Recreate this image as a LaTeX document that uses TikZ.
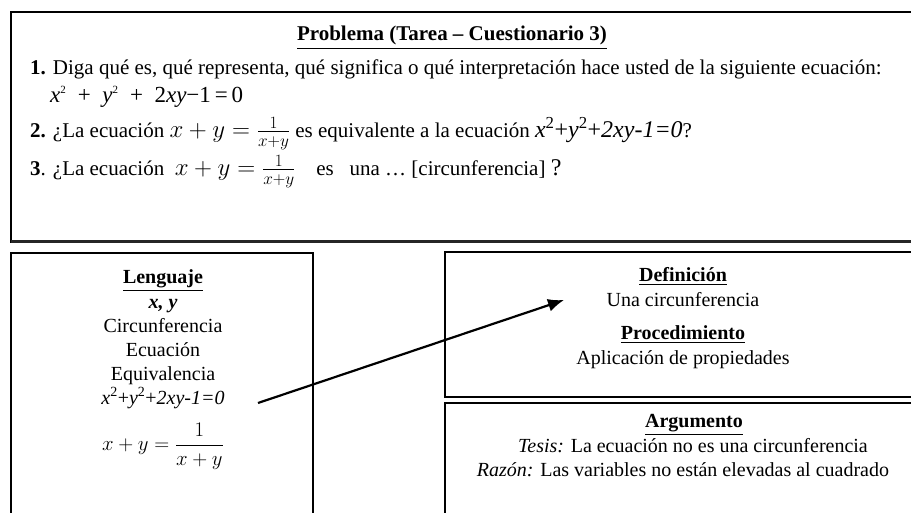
\documentclass[tikz,border=0pt]{standalone}
\usepackage{amsmath,amssymb}
\usepackage{fontspec}
\setmainfont{Liberation Serif}
\usepackage{tikz}
\usetikzlibrary{arrows.meta}

\newcommand{\sqeq}{\textit{x}\textsuperscript{2}+\textit{y}\textsuperscript{2}+\textit{2xy-1=0}}
\newcommand{\hd}[1]{\underline{\textbf{#1}}}
\newcommand{\frc}{{\fontsize{24}{24}\selectfont$x+y=\frac{1}{x+y}$}}
\newcommand{\sq}{\textsuperscript{\fontsize{11}{11}\selectfont 2}}

\begin{document}
\begin{tikzpicture}[x=1pt,y=-1pt,
    box/.style={draw,line width=1.6pt},
    txt/.style={font=\fontsize{21}{25}\selectfont,inner sep=0pt,anchor=base west},
    blk/.style={font=\fontsize{20}{24}\selectfont,inner sep=0pt,align=center,anchor=north}]
    \useasboundingbox (0,0) rectangle (911,513);
    \clip (0,0) rectangle (911,513);
    % boxes
    \draw[box] (11,12) rectangle (930,242);
    \draw[line width=3pt,black!85] (11,242) -- (930,242);
    \draw[box] (11,253) rectangle (313,530);
    \draw[box] (445,252) rectangle (930,397);
    \draw[box] (445,403) rectangle (930,530);
    % problema
    \node[txt,anchor=base] (tit) at (452,41) {\hd{Problema (Tarea – Cuestionario 3)}};
    \node[txt] (q1) at (30,75) {\textbf{1.} Diga qué es, qué representa, qué significa o qué interpretación hace usted de la siguiente ecuación:};
    \node[txt,font=\fontsize{23}{25}\selectfont] (q1b) at (50,103) {\textit{x}\sq\enspace+\enspace\textit{y}\sq\enspace+\enspace2\textit{xy}−1\,=\,0};
    \node[txt] (q2) at (30,138) {\textbf{2.} ¿La ecuación \frc{} es equivalente a la ecuación {\fontsize{24}{24}\selectfont\sqeq}?};
    \node[txt] (q3) at (30,176) {\textbf{3}. ¿La ecuación\ \ \frc\ \ \ \ es\ \ \ una … [circunferencia] {\fontsize{24}{24}\selectfont ?}};
    % lenguaje
    \node[blk] (leng) at (163,269) {\hd{Lenguaje}\\[1pt] \textbf{\textit{x, y}}\\ Circunferencia\\ Ecuación\\ Equivalencia\\ \sqeq\\[14pt] $x+y=\dfrac{1}{x+y}$};
    % definicion
    \node[blk] (defi) at (683,267) {\hd{Definición}\\[1pt] Una circunferencia\\[9pt] \hd{Procedimiento}\\[1pt] Aplicación de propiedades};
    % argumento
    \node[blk] (argu) at (683,414) {\hspace*{22pt}\hd{Argumento}\\[1pt] \hspace*{20pt}\textit{Tesis:} La ecuación no es una circunferencia\\ \textit{Razón:} Las variables no están elevadas al cuadrado};
    % flecha
    \coordinate (from) at (258,403);
    \coordinate (to) at (564,300);
    \draw[line width=2.2pt,-{Latex[length=16pt,width=13pt]}] (from) -- (to);
\end{tikzpicture}
\end{document}
